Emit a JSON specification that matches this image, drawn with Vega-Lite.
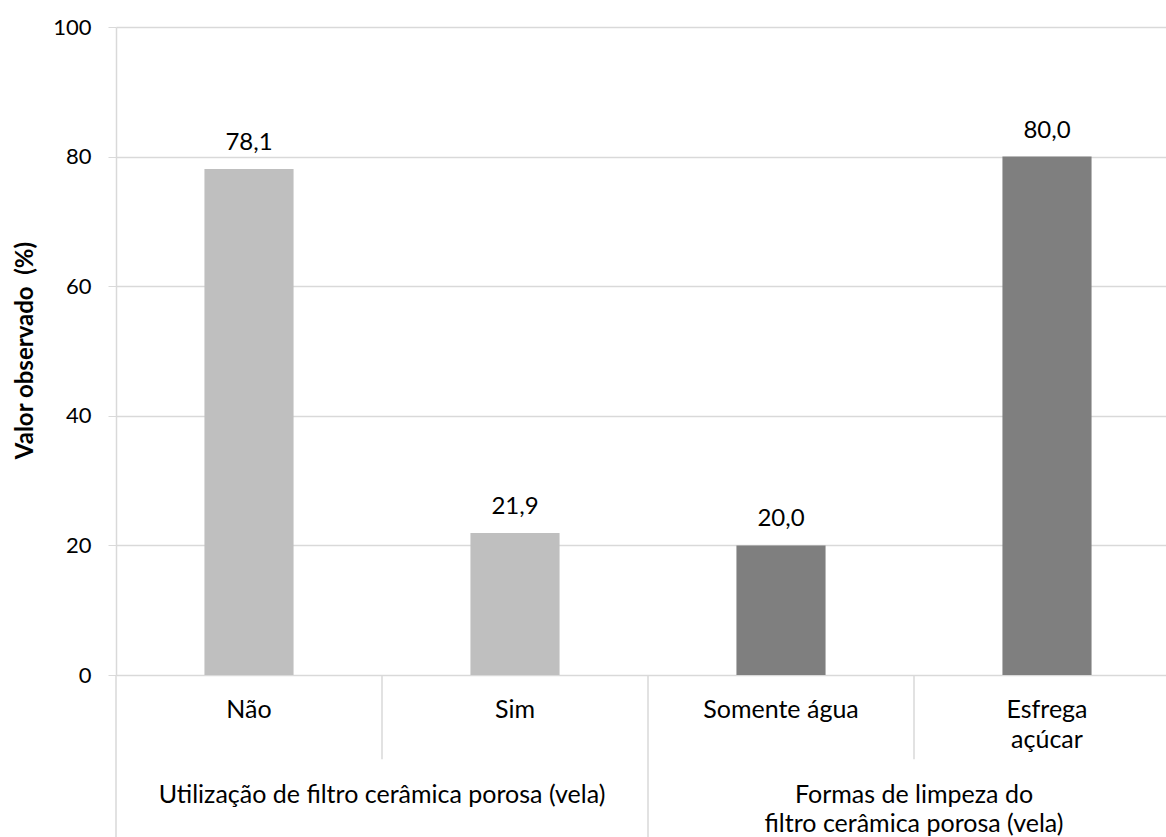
{
  "$schema": "https://vega.github.io/schema/vega-lite/v6.json",
  "width": 1050,
  "height": 648,
  "autosize": "none",
  "padding": {"left": 116, "top": 27, "right": 0, "bottom": 162},
  "background": "white",
  "config": {
    "view": {"stroke": null},
    "font": "Lato",
    "locale": {"number": {"decimal": ",", "thousands": ".", "grouping": [3], "currency": ["R$", ""]}}
  },
  "data": {
    "values": [
      {"cat": "Não", "group": "Utilização de filtro cerâmica porosa (vela)", "value": 78.1},
      {"cat": "Sim", "group": "Utilização de filtro cerâmica porosa (vela)", "value": 21.9},
      {"cat": "Somente água", "group": "Formas de limpeza do\nfiltro cerâmica porosa (vela)", "value": 20.0},
      {"cat": "Esfrega\naçúcar", "group": "Formas de limpeza do\nfiltro cerâmica porosa (vela)", "value": 80.0}
    ]
  },
  "encoding": {
    "x": {
      "field": "cat",
      "type": "nominal",
      "sort": null,
      "scale": {"range": [0, 1064], "paddingInner": 0, "paddingOuter": 0},
      "axis": null
    }
  },
  "layer": [
    {
      "mark": {"type": "bar", "width": {"band": 0.335}, "clip": false},
      "encoding": {
        "y": {
          "field": "value",
          "type": "quantitative",
          "scale": {"domain": [0, 100]},
          "axis": {
            "values": [0, 20, 40, 60, 80, 100],
            "title": "Valor observado \u00a0(%)",
            "titleFont": "Lato",
            "titleFontWeight": "bold",
            "titleFontSize": 24,
            "titleColor": "#000000",
            "titleAngle": -90,
            "titleX": -91,
            "titleY": 323,
            "titleAlign": "center",
            "titleBaseline": "middle",
            "labelFont": "Lato",
            "labelFontSize": 22,
            "labelColor": "#000000",
            "labelPadding": 17,
            "tickSize": 8,
            "tickColor": "#d9d9d9",
            "domainColor": "#d9d9d9",
            "domainWidth": 1.5,
            "gridColor": "#d9d9d9",
            "gridWidth": 1.5
          }
        },
        "color": {
          "field": "group",
          "type": "nominal",
          "sort": null,
          "scale": {"range": ["#bfbfbf", "#7f7f7f"]},
          "legend": null
        }
      }
    },
    {
      "mark": {"type": "text", "baseline": "alphabetic", "dy": -19, "fontSize": 24, "font": "Lato", "color": "#000000"},
      "encoding": {
        "y": {"field": "value", "type": "quantitative"},
        "text": {"field": "value", "type": "quantitative", "format": ".1f"}
      }
    },
    {
      "transform": [{"filter": "datum.cat == 'Não' || datum.cat == 'Somente água'"}],
      "mark": {"type": "rule", "color": "#d9d9d9", "strokeWidth": 1.5, "clip": false},
      "encoding": {
        "x": {"field": "cat", "type": "nominal", "sort": null, "bandPosition": 0},
        "y": {"datum": 0},
        "y2": {"datum": -25}
      }
    },
    {
      "transform": [{"filter": "datum.cat == 'Sim' || datum.cat == 'Esfrega\\naçúcar'"}],
      "mark": {"type": "rule", "color": "#d9d9d9", "strokeWidth": 1.5, "clip": false},
      "encoding": {
        "x": {"field": "cat", "type": "nominal", "sort": null, "bandPosition": 0},
        "y": {"datum": 0},
        "y2": {"datum": -13}
      }
    },
    {
      "mark": {"type": "text", "baseline": "alphabetic", "lineBreak": "\n", "lineHeight": 30, "fontSize": 25, "font": "Lato", "color": "#000000"},
      "encoding": {
        "y": {"datum": -6.64},
        "text": {"field": "cat"}
      }
    },
    {
      "transform": [{"filter": "datum.cat == 'Sim' || datum.cat == 'Esfrega\\naçúcar'"}],
      "mark": {"type": "text", "baseline": "alphabetic", "lineBreak": "\n", "lineHeight": 29, "fontSize": 25, "font": "Lato", "color": "#000000"},
      "encoding": {
        "x": {"field": "cat", "type": "nominal", "sort": null, "bandPosition": 0},
        "y": {"datum": -19.8},
        "text": {"field": "group"}
      }
    }
  ]
}
